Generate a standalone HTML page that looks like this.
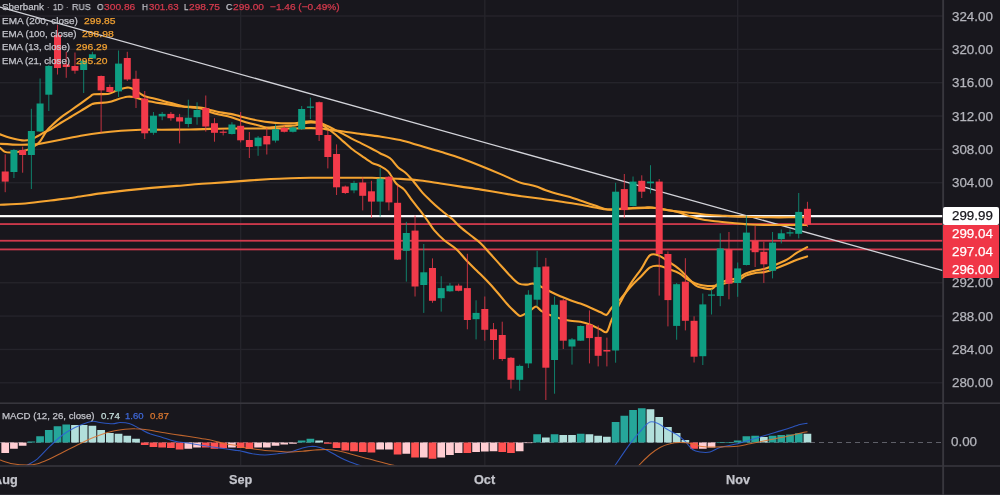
<!DOCTYPE html>
<html><head><meta charset="utf-8"><title>Sberbank 1D</title>
<style>
html,body{margin:0;padding:0;background:#18171d;}
body{width:1000px;height:495px;overflow:hidden;position:relative;font-family:"Liberation Sans",sans-serif;}
.t{position:absolute;white-space:nowrap;line-height:1;transform-origin:0 0;-webkit-text-stroke:0.25px currentColor;will-change:transform;}
.tag{position:absolute;left:942.9px;width:56.2px;height:17.8px;background:#f03647;}
</style></head><body>
<svg width="1000" height="495" viewBox="0 0 1000 495" style="position:absolute;left:0;top:0">
<rect width="1000" height="495" fill="#18171d"/>
<rect x="0" y="15.30" width="943" height="1.4" fill="#25242b"/>
<rect x="0" y="48.64" width="943" height="1.4" fill="#25242b"/>
<rect x="0" y="81.99" width="943" height="1.4" fill="#25242b"/>
<rect x="0" y="115.33" width="943" height="1.4" fill="#25242b"/>
<rect x="0" y="148.68" width="943" height="1.4" fill="#25242b"/>
<rect x="0" y="182.02" width="943" height="1.4" fill="#25242b"/>
<rect x="0" y="215.36" width="943" height="1.4" fill="#25242b"/>
<rect x="0" y="248.71" width="943" height="1.4" fill="#25242b"/>
<rect x="0" y="282.05" width="943" height="1.4" fill="#25242b"/>
<rect x="0" y="315.40" width="943" height="1.4" fill="#25242b"/>
<rect x="0" y="348.74" width="943" height="1.4" fill="#25242b"/>
<rect x="0" y="382.08" width="943" height="1.4" fill="#25242b"/>
<rect x="239.94" y="0" width="1.4" height="465.5" fill="#25242b"/>
<rect x="484.10" y="0" width="1.4" height="465.5" fill="#25242b"/>
<rect x="736.98" y="0" width="1.4" height="465.5" fill="#25242b"/>
<defs><clipPath id="mp"><rect x="0" y="0" width="943" height="403"/></clipPath><clipPath id="ip"><rect x="0" y="404" width="943" height="61.5"/></clipPath></defs>
<g clip-path="url(#mp)">
<rect x="0" y="215.05" width="943" height="2.2" fill="#ffffff"/>
<rect x="0" y="223.17" width="943" height="1.8" fill="#d13a4d"/>
<rect x="0" y="239.84" width="943" height="1.8" fill="#d13a4d"/>
<rect x="0" y="248.51" width="943" height="1.8" fill="#d13a4d"/>
<line x1="0" y1="7" x2="943" y2="270.6" stroke="#d3d4da" stroke-width="1.25"/>
<path d="M0.0,204.8 C4.2,204.6 16.9,204.2 25.3,203.5 C33.7,202.8 42.1,201.6 50.5,200.5 C58.9,199.4 67.4,198.4 75.8,197.2 C84.2,196.0 92.6,194.5 101.0,193.4 C109.4,192.3 117.9,191.3 126.3,190.4 C134.7,189.5 143.1,188.7 151.5,187.9 C159.9,187.2 168.4,186.6 176.8,185.9 C185.2,185.2 193.6,184.4 202.0,183.8 C210.4,183.2 219.3,182.7 227.3,182.1 C235.3,181.5 242.8,180.9 250.0,180.4 C257.2,179.9 264.0,179.4 270.8,179.0 C277.6,178.6 284.3,178.4 291.0,178.2 C297.7,178.0 304.3,177.9 311.0,177.8 C317.7,177.7 324.3,177.8 331.0,177.8 C337.7,177.8 344.2,177.8 351.0,177.8 C357.8,177.8 367.2,177.8 372.0,177.8 C376.8,177.9 375.3,177.9 380.0,178.1 C384.7,178.3 393.5,178.5 400.2,178.9 C406.9,179.3 413.7,179.7 420.4,180.5 C427.1,181.3 433.9,182.5 440.6,183.5 C447.3,184.5 454.1,185.6 460.8,186.6 C467.5,187.6 474.3,188.5 481.0,189.6 C487.7,190.7 494.5,191.9 501.2,193.0 C507.9,194.1 514.7,195.4 521.4,196.3 C528.1,197.2 534.9,197.8 541.6,198.7 C548.3,199.6 557.1,201.0 561.8,201.7 C566.5,202.4 566.5,202.4 570.0,203.0 C573.5,203.6 578.3,204.2 582.5,205.0 C586.7,205.8 590.8,206.8 595.0,207.5 C599.2,208.2 603.3,209.2 607.5,209.5 C611.7,209.8 613.8,209.2 620.0,209.0 C626.2,208.8 639.2,208.2 645.0,208.0 C650.8,207.8 650.8,207.6 655.0,208.0 C659.2,208.4 665.4,209.8 670.0,210.5 C674.6,211.2 678.3,211.5 682.5,212.0 C686.7,212.5 690.4,212.8 695.0,213.3 C699.6,213.8 705.0,214.6 710.0,215.0 C715.0,215.4 719.2,215.5 725.0,215.8 C730.8,216.1 737.5,216.6 745.0,216.8 C752.5,217.1 761.7,217.2 770.0,217.3 C778.3,217.4 788.9,217.3 795.0,217.3 C801.1,217.3 804.5,217.3 806.4,217.3" fill="none" stroke="#f5a431" stroke-width="2.1" stroke-linejoin="round" stroke-linecap="round"/>
<path d="M0.0,143.8 C3.3,144.0 14.3,144.7 20.0,144.8 C25.7,144.9 30.7,144.6 34.0,144.4 C37.3,144.2 35.6,144.6 40.0,143.8 C44.4,143.0 53.8,141.1 60.6,139.8 C67.4,138.5 74.1,137.0 80.8,135.8 C87.5,134.6 94.3,133.5 101.0,132.7 C107.7,131.8 114.3,131.2 121.0,130.7 C127.7,130.2 134.2,129.9 141.0,129.7 C147.8,129.5 153.4,129.7 161.6,129.7 C169.8,129.7 181.9,129.6 190.0,129.5 C198.1,129.4 203.3,129.1 210.0,128.9 C216.7,128.7 223.3,128.6 230.0,128.5 C236.7,128.4 243.3,128.5 250.0,128.5 C256.7,128.5 263.2,128.5 270.0,128.5 C276.8,128.5 284.2,128.6 291.0,128.5 C297.8,128.4 306.0,128.1 311.0,128.1 C316.0,128.1 317.6,128.2 321.0,128.5 C324.4,128.8 327.6,129.6 331.4,130.1 C335.1,130.6 338.4,130.8 343.5,131.5 C348.6,132.2 355.6,133.3 361.7,134.1 C367.8,134.9 373.6,135.5 380.0,136.5 C386.4,137.5 393.5,138.5 400.2,140.1 C406.9,141.7 413.7,143.9 420.4,145.8 C427.1,147.8 433.9,149.7 440.6,151.8 C447.3,153.9 454.1,155.9 460.8,158.3 C467.5,160.7 474.3,163.3 481.0,166.0 C487.7,168.7 496.1,172.2 501.2,174.4 C506.2,176.6 507.9,177.5 511.3,178.9 C514.7,180.3 517.4,181.7 521.4,182.9 C525.4,184.1 531.5,185.0 535.6,186.2 C539.7,187.4 541.3,188.7 545.7,190.2 C550.1,191.7 557.8,193.9 561.8,195.0 C565.8,196.1 566.5,195.9 570.0,197.0 C573.5,198.1 578.3,199.9 582.5,201.3 C586.7,202.7 590.8,204.1 595.0,205.5 C599.2,206.9 603.3,208.9 607.5,209.5 C611.7,210.1 615.8,209.1 620.0,208.8 C624.2,208.6 628.3,208.2 632.5,208.0 C636.7,207.8 641.7,207.6 645.0,207.5 C648.3,207.4 649.2,207.2 652.5,207.5 C655.8,207.8 660.8,208.8 665.0,209.5 C669.2,210.2 673.3,210.9 677.5,212.0 C681.7,213.1 685.8,215.1 690.0,216.3 C694.2,217.6 698.3,218.7 702.5,219.5 C706.7,220.3 710.0,220.7 715.0,221.3 C720.0,221.9 726.7,222.5 732.5,223.0 C738.3,223.5 743.8,224.2 750.0,224.5 C756.2,224.8 762.5,224.9 770.0,225.0 C777.5,225.1 788.9,225.0 795.0,225.0 C801.1,225.0 804.5,225.0 806.4,225.0" fill="none" stroke="#f5a431" stroke-width="2.1" stroke-linejoin="round" stroke-linecap="round"/>
<path d="M0.0,134.3 C1.7,134.9 6.3,136.8 10.0,137.8 C13.7,138.8 18.7,140.1 22.0,140.4 C25.3,140.7 27.6,140.4 30.0,139.8 C32.4,139.2 34.0,138.1 36.4,136.8 C38.8,135.6 42.0,133.5 44.4,132.3 C46.8,131.1 47.8,131.2 50.5,129.7 C53.2,128.1 57.2,125.1 60.6,123.0 C64.0,120.9 67.3,119.0 70.7,117.0 C74.1,115.0 77.4,112.9 80.8,110.9 C84.2,108.9 88.5,106.0 90.9,104.8 C93.3,103.5 92.0,103.9 95.0,103.4 C98.0,102.9 105.3,102.7 109.0,102.0 C112.7,101.3 114.2,100.3 117.2,99.4 C120.2,98.5 124.6,97.2 127.3,96.8 C130.0,96.4 130.3,96.4 133.3,97.0 C136.3,97.6 140.8,99.3 145.5,100.4 C150.2,101.5 155.5,102.4 161.6,103.4 C167.7,104.4 177.1,105.9 181.8,106.5 C186.5,107.1 186.6,106.7 190.0,106.9 C193.4,107.1 198.7,107.4 202.0,107.9 C205.3,108.4 207.0,109.2 210.0,109.9 C213.0,110.6 216.6,111.6 220.0,112.3 C223.4,113.0 227.0,113.2 230.4,113.9 C233.8,114.6 237.1,115.6 240.5,116.4 C243.9,117.2 247.2,118.2 250.6,119.0 C254.0,119.8 257.3,120.4 260.7,121.0 C264.1,121.6 267.4,122.0 270.8,122.4 C274.2,122.8 277.5,123.0 280.9,123.2 C284.3,123.4 288.3,123.4 291.0,123.4 C293.7,123.4 295.0,123.3 297.0,123.0 C299.0,122.7 300.7,122.1 303.0,121.8 C305.3,121.5 308.3,121.1 311.0,121.2 C313.7,121.3 316.6,121.6 319.3,122.4 C322.0,123.2 324.7,124.7 327.4,126.0 C330.1,127.3 332.8,128.8 335.5,130.1 C338.2,131.4 340.8,132.7 343.5,134.1 C346.2,135.5 348.6,137.0 351.6,138.6 C354.6,140.2 358.3,141.9 361.7,143.6 C365.1,145.3 368.8,147.1 371.8,148.7 C374.9,150.3 376.9,151.6 380.0,153.2 C383.1,154.8 387.1,155.9 390.1,158.3 C393.1,160.7 395.5,164.9 398.2,167.4 C400.9,169.9 403.6,170.9 406.3,173.4 C409.0,175.9 411.6,179.3 414.3,182.5 C417.0,185.7 419.7,189.6 422.4,192.6 C425.1,195.6 427.5,197.8 430.5,200.7 C433.5,203.6 437.2,206.9 440.6,209.8 C444.0,212.7 448.6,216.2 450.7,217.9 C452.8,219.6 451.7,218.5 453.3,220.0 C454.9,221.5 457.5,224.6 460.4,227.1 C463.3,229.6 467.1,232.5 470.5,235.2 C473.9,237.9 477.2,240.0 480.6,243.2 C484.0,246.4 487.3,250.6 490.7,254.3 C494.1,258.0 497.4,261.8 500.8,265.5 C504.2,269.2 507.9,273.6 510.9,276.6 C513.9,279.6 516.3,282.3 519.0,283.6 C521.7,284.9 524.8,284.6 527.1,284.6 C529.5,284.6 530.8,283.2 533.1,283.6 C535.5,284.0 538.4,285.4 541.2,286.7 C544.0,288.0 546.9,289.9 550.1,291.5 C553.3,293.1 556.8,294.8 560.2,296.2 C563.6,297.6 566.9,299.0 570.3,300.2 C573.7,301.4 577.0,302.4 580.4,303.6 C583.8,304.9 587.1,306.2 590.5,307.7 C593.9,309.1 597.9,311.1 600.6,312.3 C603.3,313.5 604.9,315.5 606.7,314.7 C608.6,313.9 609.4,310.4 611.7,307.7 C614.1,305.0 617.6,302.1 620.8,298.6 C624.0,295.1 627.5,290.2 630.9,286.5 C634.3,282.8 637.8,279.6 641.0,276.4 C644.2,273.2 647.1,269.1 650.1,267.3 C653.1,265.6 656.0,265.6 659.2,265.9 C662.4,266.2 665.9,268.1 669.3,269.3 C672.7,270.5 676.4,271.6 679.4,273.3 C682.4,275.0 684.8,277.7 687.5,279.4 C690.2,281.1 692.9,282.4 695.6,283.4 C698.3,284.4 700.9,285.1 703.6,285.5 C706.3,285.9 709.3,286.1 711.7,286.1 C714.1,286.1 715.4,285.9 717.8,285.4 C720.2,284.9 723.0,283.7 726.3,282.9 C729.6,282.1 734.2,281.6 737.6,280.4 C741.0,279.1 743.3,276.7 746.5,275.4 C749.7,274.1 753.7,273.4 756.6,272.8 C759.5,272.2 761.2,272.7 764.1,272.1 C767.0,271.5 770.4,270.4 774.2,269.0 C778.0,267.6 783.1,265.6 786.9,264.0 C790.7,262.4 793.6,261.0 797.0,259.7 C800.4,258.4 805.4,256.9 807.1,256.4" fill="none" stroke="#f5a431" stroke-width="2.1" stroke-linejoin="round" stroke-linecap="round"/>
<path d="M0.0,147.9 C0.8,148.6 3.0,151.1 5.0,151.9 C7.0,152.7 9.2,152.6 12.0,152.5 C14.8,152.4 19.0,151.9 22.0,151.3 C25.0,150.7 27.6,150.0 30.0,148.9 C32.4,147.8 34.7,146.2 36.4,144.8 C38.1,143.5 38.7,143.1 40.4,140.8 C42.1,138.5 44.8,133.4 46.5,131.1 C48.2,128.8 48.1,128.9 50.5,126.7 C52.9,124.5 57.2,120.3 60.6,117.6 C64.0,114.9 67.3,112.9 70.7,110.5 C74.1,108.1 77.4,105.8 80.8,103.4 C84.2,101.0 88.7,97.5 90.9,96.0 C93.1,94.5 91.0,94.7 94.0,94.3 C97.0,93.9 105.1,94.4 109.0,93.7 C112.9,93.0 114.3,91.3 117.2,90.3 C120.1,89.3 123.9,88.0 126.3,87.7 C128.7,87.4 128.8,87.2 131.3,88.3 C133.8,89.4 139.0,92.9 141.4,94.3 C143.8,95.7 142.1,95.4 145.5,96.4 C148.9,97.4 155.5,98.8 161.6,100.4 C167.7,102.0 177.1,104.8 181.8,106.0 C186.5,107.2 186.6,106.8 190.0,107.3 C193.4,107.8 198.7,107.9 202.0,108.7 C205.3,109.5 207.0,110.9 210.0,111.9 C213.0,112.9 216.6,113.9 220.0,114.7 C223.4,115.5 227.0,116.0 230.4,117.0 C233.8,118.0 237.1,119.3 240.5,120.4 C243.9,121.5 247.2,122.5 250.6,123.4 C254.0,124.3 258.0,125.3 260.7,126.0 C263.4,126.7 264.4,127.3 266.8,127.5 C269.2,127.7 271.8,127.2 274.8,127.0 C277.8,126.8 281.6,126.2 285.0,126.0 C288.4,125.8 292.0,125.9 295.0,125.5 C298.0,125.1 300.3,123.9 303.0,123.4 C305.7,122.9 308.3,122.4 311.0,122.4 C313.7,122.4 316.6,122.4 319.3,123.4 C322.0,124.4 324.7,126.7 327.4,128.5 C330.1,130.3 332.8,132.3 335.5,134.5 C338.2,136.7 340.8,139.2 343.5,141.6 C346.2,144.0 348.6,146.3 351.6,148.7 C354.6,151.1 358.3,153.5 361.7,155.8 C365.1,158.2 368.8,161.1 371.8,162.8 C374.9,164.5 377.3,164.6 380.0,166.0 C382.7,167.4 385.4,168.5 388.1,171.4 C390.8,174.3 393.5,180.5 396.2,183.5 C398.9,186.5 401.5,186.7 404.2,189.6 C406.9,192.5 409.6,197.2 412.3,200.7 C415.0,204.2 417.9,207.6 420.4,210.8 C422.9,214.0 424.8,216.8 427.1,220.0 C429.4,223.2 431.2,226.7 434.1,230.1 C437.0,233.5 440.5,237.0 444.2,240.2 C447.9,243.4 452.7,245.9 456.4,249.3 C460.1,252.7 463.1,256.9 466.5,260.4 C469.9,263.9 473.2,267.1 476.6,270.5 C480.0,273.9 483.3,277.1 486.7,280.6 C490.1,284.1 493.4,287.8 496.8,291.7 C500.2,295.6 503.9,300.4 506.9,303.8 C509.9,307.2 512.7,309.9 514.9,311.9 C517.1,313.9 518.3,315.7 520.0,316.0 C521.7,316.3 523.2,314.9 525.1,313.9 C527.0,312.9 529.2,311.1 531.1,309.9 C533.0,308.7 534.5,306.3 536.2,306.5 C537.9,306.7 539.0,309.5 541.2,310.9 C543.4,312.3 546.1,313.4 549.3,314.7 C552.5,315.9 556.7,317.4 560.2,318.4 C563.7,319.4 566.9,320.2 570.3,320.8 C573.7,321.4 577.0,321.1 580.4,321.8 C583.8,322.5 587.1,323.5 590.5,324.8 C593.9,326.1 597.9,328.3 600.6,329.5 C603.3,330.7 604.9,333.5 606.7,331.9 C608.6,330.3 609.4,324.9 611.7,319.8 C614.1,314.8 617.6,307.7 620.8,301.6 C624.0,295.5 627.5,288.8 630.9,283.4 C634.3,278.0 637.8,274.0 641.0,269.3 C644.2,264.6 647.1,257.4 650.1,255.2 C653.1,252.9 656.0,254.6 659.2,255.8 C662.4,257.0 665.9,259.9 669.3,262.2 C672.7,264.4 676.4,266.8 679.4,269.3 C682.4,271.8 684.8,274.7 687.5,277.4 C690.2,280.1 692.9,283.7 695.6,285.5 C698.3,287.3 700.9,287.5 703.6,288.1 C706.3,288.7 709.3,289.6 711.7,288.9 C714.1,288.2 715.4,285.4 717.8,284.0 C720.2,282.6 723.0,281.4 726.3,280.4 C729.6,279.4 734.2,279.1 737.6,277.9 C741.0,276.7 743.3,274.6 746.5,273.3 C749.7,272.0 753.7,271.0 756.6,270.3 C759.5,269.6 761.2,269.8 764.1,269.0 C767.0,268.2 770.4,266.9 774.2,265.3 C778.0,263.8 783.1,261.8 786.9,259.7 C790.7,257.6 793.6,254.7 797.0,252.6 C800.4,250.5 805.4,248.0 807.1,247.1" fill="none" stroke="#f5a431" stroke-width="2.1" stroke-linejoin="round" stroke-linecap="round"/>
<rect x="4.70" y="154.3" width="1" height="37.9" fill="#f23a4a" opacity="0.78"/>
<rect x="1.70" y="171.5" width="7" height="10.1" fill="#f23a4a"/>
<rect x="13.42" y="149.0" width="1" height="29.0" fill="#0e9e82" opacity="0.78"/>
<rect x="10.42" y="150.0" width="7" height="22.0" fill="#0e9e82"/>
<rect x="22.14" y="146.7" width="1" height="26.0" fill="#f23a4a" opacity="0.78"/>
<rect x="19.14" y="150.0" width="7" height="5.0" fill="#f23a4a"/>
<rect x="30.86" y="108.8" width="1" height="80.2" fill="#0e9e82" opacity="0.78"/>
<rect x="27.86" y="131.0" width="7" height="24.0" fill="#0e9e82"/>
<rect x="39.58" y="78.5" width="1" height="53.5" fill="#0e9e82" opacity="0.78"/>
<rect x="36.58" y="103.5" width="7" height="28.0" fill="#0e9e82"/>
<rect x="48.30" y="65.0" width="1" height="46.0" fill="#0e9e82" opacity="0.78"/>
<rect x="45.30" y="66.0" width="7" height="28.7" fill="#0e9e82"/>
<rect x="57.02" y="25.0" width="1" height="49.5" fill="#f23a4a" opacity="0.78"/>
<rect x="54.02" y="35.0" width="7" height="33.0" fill="#f23a4a"/>
<rect x="65.74" y="51.8" width="1" height="26.0" fill="#f23a4a" opacity="0.78"/>
<rect x="62.74" y="64.4" width="7" height="2.6" fill="#f23a4a"/>
<rect x="74.46" y="52.5" width="1" height="21.2" fill="#f23a4a" opacity="0.78"/>
<rect x="71.46" y="66.0" width="7" height="4.7" fill="#f23a4a"/>
<rect x="83.18" y="60.0" width="1" height="33.0" fill="#0e9e82" opacity="0.78"/>
<rect x="80.18" y="60.6" width="7" height="9.4" fill="#0e9e82"/>
<rect x="91.90" y="51.8" width="1" height="7.2" fill="#0e9e82" opacity="0.78"/>
<rect x="88.90" y="54.3" width="7" height="4.3" fill="#0e9e82"/>
<rect x="100.62" y="75.5" width="1" height="57.3" fill="#f23a4a" opacity="0.78"/>
<rect x="97.62" y="76.0" width="7" height="14.4" fill="#f23a4a"/>
<rect x="109.34" y="84.6" width="1" height="7.9" fill="#f23a4a" opacity="0.78"/>
<rect x="106.34" y="87.0" width="7" height="5.0" fill="#f23a4a"/>
<rect x="118.06" y="50.5" width="1" height="46.5" fill="#0e9e82" opacity="0.78"/>
<rect x="115.06" y="63.6" width="7" height="27.8" fill="#0e9e82"/>
<rect x="126.78" y="51.8" width="1" height="29.2" fill="#f23a4a" opacity="0.78"/>
<rect x="123.78" y="58.0" width="7" height="21.5" fill="#f23a4a"/>
<rect x="135.50" y="70.7" width="1" height="37.3" fill="#f23a4a" opacity="0.78"/>
<rect x="132.50" y="78.8" width="7" height="19.2" fill="#f23a4a"/>
<rect x="144.22" y="91.0" width="1" height="48.0" fill="#f23a4a" opacity="0.78"/>
<rect x="141.22" y="98.5" width="7" height="34.8" fill="#f23a4a"/>
<rect x="152.94" y="112.0" width="1" height="22.8" fill="#0e9e82" opacity="0.78"/>
<rect x="149.94" y="115.7" width="7" height="17.1" fill="#0e9e82"/>
<rect x="161.66" y="112.0" width="1" height="8.2" fill="#0e9e82" opacity="0.78"/>
<rect x="158.66" y="113.9" width="7" height="2.5" fill="#0e9e82"/>
<rect x="170.38" y="112.0" width="1" height="8.7" fill="#f23a4a" opacity="0.78"/>
<rect x="167.38" y="113.9" width="7" height="4.3" fill="#f23a4a"/>
<rect x="179.10" y="113.9" width="1" height="29.5" fill="#f23a4a" opacity="0.78"/>
<rect x="176.10" y="117.2" width="7" height="4.3" fill="#f23a4a"/>
<rect x="187.82" y="99.7" width="1" height="27.6" fill="#0e9e82" opacity="0.78"/>
<rect x="184.82" y="117.7" width="7" height="6.3" fill="#0e9e82"/>
<rect x="196.54" y="102.3" width="1" height="22.4" fill="#0e9e82" opacity="0.78"/>
<rect x="193.54" y="110.0" width="7" height="7.2" fill="#0e9e82"/>
<rect x="205.26" y="95.5" width="1" height="36.1" fill="#f23a4a" opacity="0.78"/>
<rect x="202.26" y="108.0" width="7" height="18.5" fill="#f23a4a"/>
<rect x="213.98" y="118.2" width="1" height="23.5" fill="#f23a4a" opacity="0.78"/>
<rect x="210.98" y="123.2" width="7" height="9.6" fill="#f23a4a"/>
<rect x="222.70" y="129.0" width="1" height="6.4" fill="#f23a4a" opacity="0.78"/>
<rect x="219.70" y="131.6" width="7" height="1.2" fill="#f23a4a"/>
<rect x="231.42" y="122.2" width="1" height="12.3" fill="#0e9e82" opacity="0.78"/>
<rect x="228.42" y="124.5" width="7" height="9.5" fill="#0e9e82"/>
<rect x="240.14" y="112.0" width="1" height="30.4" fill="#f23a4a" opacity="0.78"/>
<rect x="237.14" y="125.8" width="7" height="14.5" fill="#f23a4a"/>
<rect x="248.86" y="132.0" width="1" height="26.0" fill="#f23a4a" opacity="0.78"/>
<rect x="245.86" y="140.0" width="7" height="7.0" fill="#f23a4a"/>
<rect x="257.58" y="136.0" width="1" height="19.8" fill="#0e9e82" opacity="0.78"/>
<rect x="254.58" y="137.6" width="7" height="8.6" fill="#0e9e82"/>
<rect x="266.30" y="128.0" width="1" height="26.5" fill="#f23a4a" opacity="0.78"/>
<rect x="263.30" y="136.0" width="7" height="8.4" fill="#f23a4a"/>
<rect x="275.02" y="124.2" width="1" height="18.4" fill="#0e9e82" opacity="0.78"/>
<rect x="272.02" y="129.2" width="7" height="11.4" fill="#0e9e82"/>
<rect x="283.74" y="125.5" width="1" height="7.0" fill="#f23a4a" opacity="0.78"/>
<rect x="280.74" y="128.0" width="7" height="3.8" fill="#f23a4a"/>
<rect x="292.46" y="126.2" width="1" height="6.3" fill="#0e9e82" opacity="0.78"/>
<rect x="289.46" y="127.5" width="7" height="4.3" fill="#0e9e82"/>
<rect x="301.18" y="106.0" width="1" height="24.0" fill="#0e9e82" opacity="0.78"/>
<rect x="298.18" y="109.0" width="7" height="20.2" fill="#0e9e82"/>
<rect x="309.90" y="97.7" width="1" height="21.3" fill="#0e9e82" opacity="0.78"/>
<rect x="306.90" y="106.5" width="7" height="1.3" fill="#0e9e82"/>
<rect x="318.62" y="101.5" width="1" height="39.5" fill="#f23a4a" opacity="0.78"/>
<rect x="315.62" y="102.2" width="7" height="32.8" fill="#f23a4a"/>
<rect x="327.34" y="130.5" width="1" height="37.9" fill="#f23a4a" opacity="0.78"/>
<rect x="324.34" y="135.0" width="7" height="22.0" fill="#f23a4a"/>
<rect x="336.06" y="144.4" width="1" height="50.6" fill="#f23a4a" opacity="0.78"/>
<rect x="333.06" y="154.0" width="7" height="33.3" fill="#f23a4a"/>
<rect x="344.78" y="185.5" width="1" height="8.5" fill="#f23a4a" opacity="0.78"/>
<rect x="341.78" y="186.5" width="7" height="6.5" fill="#f23a4a"/>
<rect x="353.50" y="180.8" width="1" height="12.4" fill="#0e9e82" opacity="0.78"/>
<rect x="350.50" y="183.0" width="7" height="7.4" fill="#0e9e82"/>
<rect x="362.22" y="177.4" width="1" height="33.0" fill="#f23a4a" opacity="0.78"/>
<rect x="359.22" y="182.5" width="7" height="13.3" fill="#f23a4a"/>
<rect x="370.94" y="180.8" width="1" height="37.2" fill="#f23a4a" opacity="0.78"/>
<rect x="367.94" y="191.3" width="7" height="10.3" fill="#f23a4a"/>
<rect x="379.66" y="168.0" width="1" height="48.7" fill="#0e9e82" opacity="0.78"/>
<rect x="376.66" y="178.7" width="7" height="22.9" fill="#0e9e82"/>
<rect x="388.38" y="176.0" width="1" height="34.4" fill="#f23a4a" opacity="0.78"/>
<rect x="385.38" y="176.8" width="7" height="25.6" fill="#f23a4a"/>
<rect x="397.10" y="185.2" width="1" height="74.8" fill="#f23a4a" opacity="0.78"/>
<rect x="394.10" y="202.8" width="7" height="56.8" fill="#f23a4a"/>
<rect x="405.82" y="221.8" width="1" height="59.8" fill="#0e9e82" opacity="0.78"/>
<rect x="402.82" y="233.0" width="7" height="17.8" fill="#0e9e82"/>
<rect x="414.54" y="215.5" width="1" height="81.0" fill="#f23a4a" opacity="0.78"/>
<rect x="411.54" y="230.6" width="7" height="55.9" fill="#f23a4a"/>
<rect x="423.26" y="244.0" width="1" height="68.9" fill="#0e9e82" opacity="0.78"/>
<rect x="420.26" y="272.3" width="7" height="12.7" fill="#0e9e82"/>
<rect x="431.98" y="258.4" width="1" height="44.4" fill="#f23a4a" opacity="0.78"/>
<rect x="428.98" y="268.0" width="7" height="32.8" fill="#f23a4a"/>
<rect x="440.70" y="276.2" width="1" height="35.4" fill="#0e9e82" opacity="0.78"/>
<rect x="437.70" y="288.1" width="7" height="10.1" fill="#0e9e82"/>
<rect x="449.42" y="283.0" width="1" height="8.8" fill="#0e9e82" opacity="0.78"/>
<rect x="446.42" y="285.6" width="7" height="5.7" fill="#0e9e82"/>
<rect x="458.14" y="283.7" width="1" height="7.7" fill="#f23a4a" opacity="0.78"/>
<rect x="455.14" y="285.6" width="7" height="5.2" fill="#f23a4a"/>
<rect x="466.86" y="253.8" width="1" height="75.5" fill="#f23a4a" opacity="0.78"/>
<rect x="463.86" y="288.1" width="7" height="31.9" fill="#f23a4a"/>
<rect x="475.58" y="300.3" width="1" height="39.1" fill="#0e9e82" opacity="0.78"/>
<rect x="472.58" y="312.9" width="7" height="6.3" fill="#0e9e82"/>
<rect x="484.30" y="296.5" width="1" height="44.2" fill="#f23a4a" opacity="0.78"/>
<rect x="481.30" y="309.0" width="7" height="20.8" fill="#f23a4a"/>
<rect x="493.02" y="323.0" width="1" height="36.6" fill="#f23a4a" opacity="0.78"/>
<rect x="490.02" y="329.3" width="7" height="10.7" fill="#f23a4a"/>
<rect x="501.74" y="321.7" width="1" height="39.2" fill="#f23a4a" opacity="0.78"/>
<rect x="498.74" y="335.0" width="7" height="24.0" fill="#f23a4a"/>
<rect x="510.46" y="357.0" width="1" height="31.6" fill="#f23a4a" opacity="0.78"/>
<rect x="507.46" y="357.8" width="7" height="22.0" fill="#f23a4a"/>
<rect x="519.18" y="364.6" width="1" height="26.1" fill="#0e9e82" opacity="0.78"/>
<rect x="516.18" y="365.9" width="7" height="13.9" fill="#0e9e82"/>
<rect x="527.90" y="290.2" width="1" height="77.8" fill="#0e9e82" opacity="0.78"/>
<rect x="524.90" y="294.7" width="7" height="68.7" fill="#0e9e82"/>
<rect x="536.62" y="250.8" width="1" height="55.8" fill="#0e9e82" opacity="0.78"/>
<rect x="533.62" y="267.2" width="7" height="32.5" fill="#0e9e82"/>
<rect x="545.34" y="257.9" width="1" height="142.1" fill="#f23a4a" opacity="0.78"/>
<rect x="542.34" y="266.5" width="7" height="101.2" fill="#f23a4a"/>
<rect x="554.06" y="296.5" width="1" height="97.2" fill="#0e9e82" opacity="0.78"/>
<rect x="551.06" y="304.8" width="7" height="55.2" fill="#0e9e82"/>
<rect x="562.78" y="299.0" width="1" height="50.0" fill="#f23a4a" opacity="0.78"/>
<rect x="559.78" y="300.3" width="7" height="40.4" fill="#f23a4a"/>
<rect x="571.50" y="338.0" width="1" height="26.6" fill="#0e9e82" opacity="0.78"/>
<rect x="568.50" y="339.4" width="7" height="7.1" fill="#0e9e82"/>
<rect x="580.22" y="325.5" width="1" height="15.5" fill="#0e9e82" opacity="0.78"/>
<rect x="577.22" y="326.0" width="7" height="14.7" fill="#0e9e82"/>
<rect x="588.94" y="310.4" width="1" height="53.0" fill="#f23a4a" opacity="0.78"/>
<rect x="585.94" y="324.7" width="7" height="13.4" fill="#f23a4a"/>
<rect x="597.66" y="325.5" width="1" height="40.9" fill="#f23a4a" opacity="0.78"/>
<rect x="594.66" y="336.9" width="7" height="18.9" fill="#f23a4a"/>
<rect x="606.38" y="337.6" width="1" height="28.8" fill="#f23a4a" opacity="0.78"/>
<rect x="603.38" y="350.0" width="7" height="1.5" fill="#f23a4a"/>
<rect x="615.10" y="182.8" width="1" height="179.9" fill="#0e9e82" opacity="0.78"/>
<rect x="612.10" y="191.7" width="7" height="158.8" fill="#0e9e82"/>
<rect x="623.82" y="174.0" width="1" height="44.2" fill="#f23a4a" opacity="0.78"/>
<rect x="620.82" y="189.1" width="7" height="21.0" fill="#f23a4a"/>
<rect x="632.54" y="176.5" width="1" height="30.0" fill="#0e9e82" opacity="0.78"/>
<rect x="629.54" y="181.6" width="7" height="24.4" fill="#0e9e82"/>
<rect x="641.26" y="175.3" width="1" height="22.7" fill="#f23a4a" opacity="0.78"/>
<rect x="638.26" y="180.8" width="7" height="10.9" fill="#f23a4a"/>
<rect x="649.98" y="165.2" width="1" height="28.2" fill="#0e9e82" opacity="0.78"/>
<rect x="646.98" y="181.6" width="7" height="1.7" fill="#0e9e82"/>
<rect x="658.70" y="179.0" width="1" height="116.6" fill="#f23a4a" opacity="0.78"/>
<rect x="655.70" y="181.6" width="7" height="72.4" fill="#f23a4a"/>
<rect x="667.42" y="251.4" width="1" height="75.0" fill="#f23a4a" opacity="0.78"/>
<rect x="664.42" y="254.0" width="7" height="46.1" fill="#f23a4a"/>
<rect x="676.14" y="283.0" width="1" height="56.7" fill="#0e9e82" opacity="0.78"/>
<rect x="673.14" y="284.2" width="7" height="41.7" fill="#0e9e82"/>
<rect x="684.86" y="258.2" width="1" height="72.2" fill="#f23a4a" opacity="0.78"/>
<rect x="681.86" y="281.7" width="7" height="39.1" fill="#f23a4a"/>
<rect x="693.58" y="316.3" width="1" height="46.2" fill="#f23a4a" opacity="0.78"/>
<rect x="690.58" y="320.8" width="7" height="35.9" fill="#f23a4a"/>
<rect x="702.30" y="293.5" width="1" height="71.5" fill="#0e9e82" opacity="0.78"/>
<rect x="699.30" y="304.4" width="7" height="51.8" fill="#0e9e82"/>
<rect x="711.02" y="289.2" width="1" height="25.3" fill="#0e9e82" opacity="0.78"/>
<rect x="708.02" y="294.5" width="7" height="1.2" fill="#0e9e82"/>
<rect x="719.74" y="233.3" width="1" height="72.9" fill="#0e9e82" opacity="0.78"/>
<rect x="716.74" y="248.4" width="7" height="47.6" fill="#0e9e82"/>
<rect x="728.46" y="232.0" width="1" height="67.3" fill="#f23a4a" opacity="0.78"/>
<rect x="725.46" y="249.3" width="7" height="34.4" fill="#f23a4a"/>
<rect x="737.18" y="262.5" width="1" height="34.3" fill="#0e9e82" opacity="0.78"/>
<rect x="734.18" y="268.4" width="7" height="14.6" fill="#0e9e82"/>
<rect x="745.90" y="215.7" width="1" height="49.8" fill="#0e9e82" opacity="0.78"/>
<rect x="742.90" y="232.6" width="7" height="32.4" fill="#0e9e82"/>
<rect x="754.62" y="225.8" width="1" height="41.2" fill="#f23a4a" opacity="0.78"/>
<rect x="751.62" y="240.9" width="7" height="11.3" fill="#f23a4a"/>
<rect x="763.34" y="241.7" width="1" height="41.2" fill="#f23a4a" opacity="0.78"/>
<rect x="760.34" y="251.8" width="7" height="12.5" fill="#f23a4a"/>
<rect x="772.06" y="232.0" width="1" height="46.4" fill="#0e9e82" opacity="0.78"/>
<rect x="769.06" y="242.6" width="7" height="28.2" fill="#0e9e82"/>
<rect x="780.78" y="229.5" width="1" height="13.9" fill="#0e9e82" opacity="0.78"/>
<rect x="777.78" y="233.3" width="7" height="5.8" fill="#0e9e82"/>
<rect x="789.50" y="229.5" width="1" height="6.9" fill="#0e9e82" opacity="0.78"/>
<rect x="786.50" y="232.3" width="7" height="1.2" fill="#0e9e82"/>
<rect x="798.22" y="193.0" width="1" height="45.4" fill="#0e9e82" opacity="0.78"/>
<rect x="795.22" y="211.9" width="7" height="21.9" fill="#0e9e82"/>
<rect x="806.94" y="201.8" width="1" height="25.2" fill="#f23a4a" opacity="0.78"/>
<rect x="803.94" y="208.8" width="7" height="15.7" fill="#f23a4a"/>
</g>
<g clip-path="url(#ip)">
<line x1="0" y1="442.5" x2="943" y2="442.5" stroke="#5e5f68" stroke-width="1" stroke-dasharray="5,4"/>
<rect x="1.35" y="442.50" width="7.7" height="10.50" fill="#ffcdd2"/>
<rect x="10.07" y="442.50" width="7.7" height="6.25" fill="#ffcdd2"/>
<rect x="18.79" y="442.50" width="7.7" height="3.25" fill="#ffcdd2"/>
<rect x="27.51" y="441.50" width="7.7" height="1.00" fill="#26a69a"/>
<rect x="36.23" y="436.25" width="7.7" height="6.25" fill="#26a69a"/>
<rect x="44.95" y="430.00" width="7.7" height="12.50" fill="#26a69a"/>
<rect x="53.67" y="426.25" width="7.7" height="16.25" fill="#26a69a"/>
<rect x="62.39" y="424.50" width="7.7" height="18.00" fill="#26a69a"/>
<rect x="71.11" y="425.00" width="7.7" height="17.50" fill="#b2dfdb"/>
<rect x="79.83" y="425.00" width="7.7" height="17.50" fill="#b2dfdb"/>
<rect x="88.55" y="425.75" width="7.7" height="16.75" fill="#b2dfdb"/>
<rect x="97.27" y="430.00" width="7.7" height="12.50" fill="#b2dfdb"/>
<rect x="105.99" y="433.00" width="7.7" height="9.50" fill="#b2dfdb"/>
<rect x="114.71" y="433.75" width="7.7" height="8.75" fill="#b2dfdb"/>
<rect x="123.43" y="435.75" width="7.7" height="6.75" fill="#b2dfdb"/>
<rect x="132.15" y="438.75" width="7.7" height="3.75" fill="#b2dfdb"/>
<rect x="140.87" y="442.50" width="7.7" height="2.50" fill="#ff5252"/>
<rect x="149.59" y="442.50" width="7.7" height="4.50" fill="#ff5252"/>
<rect x="158.31" y="442.50" width="7.7" height="5.00" fill="#ff5252"/>
<rect x="167.03" y="442.50" width="7.7" height="5.50" fill="#ff5252"/>
<rect x="175.75" y="442.50" width="7.7" height="7.00" fill="#ff5252"/>
<rect x="184.47" y="442.50" width="7.7" height="6.25" fill="#ffcdd2"/>
<rect x="193.19" y="442.50" width="7.7" height="5.00" fill="#ffcdd2"/>
<rect x="201.91" y="442.50" width="7.7" height="5.00" fill="#ff5252"/>
<rect x="210.63" y="442.50" width="7.7" height="6.25" fill="#ff5252"/>
<rect x="219.35" y="442.50" width="7.7" height="5.75" fill="#ff5252"/>
<rect x="228.07" y="442.50" width="7.7" height="5.00" fill="#ffcdd2"/>
<rect x="236.79" y="442.50" width="7.7" height="5.50" fill="#ff5252"/>
<rect x="245.51" y="442.50" width="7.7" height="6.50" fill="#ff5252"/>
<rect x="254.23" y="442.50" width="7.7" height="5.00" fill="#ffcdd2"/>
<rect x="262.95" y="442.50" width="7.7" height="5.00" fill="#ffcdd2"/>
<rect x="271.67" y="442.50" width="7.7" height="3.25" fill="#ffcdd2"/>
<rect x="280.39" y="442.50" width="7.7" height="2.00" fill="#ffcdd2"/>
<rect x="289.11" y="442.50" width="7.7" height="1.25" fill="#ffcdd2"/>
<rect x="297.83" y="440.50" width="7.7" height="2.00" fill="#26a69a"/>
<rect x="306.55" y="438.75" width="7.7" height="3.75" fill="#26a69a"/>
<rect x="315.27" y="440.50" width="7.7" height="2.00" fill="#b2dfdb"/>
<rect x="323.99" y="442.50" width="7.7" height="1.25" fill="#ff5252"/>
<rect x="332.71" y="442.50" width="7.7" height="5.50" fill="#ff5252"/>
<rect x="341.43" y="442.50" width="7.7" height="8.00" fill="#ff5252"/>
<rect x="350.15" y="442.50" width="7.7" height="8.75" fill="#ff5252"/>
<rect x="358.87" y="442.50" width="7.7" height="9.50" fill="#ff5252"/>
<rect x="367.59" y="442.50" width="7.7" height="10.00" fill="#ff5252"/>
<rect x="376.31" y="442.50" width="7.7" height="7.00" fill="#ffcdd2"/>
<rect x="385.03" y="442.50" width="7.7" height="7.00" fill="#ffcdd2"/>
<rect x="393.75" y="442.50" width="7.7" height="12.00" fill="#ff5252"/>
<rect x="402.47" y="442.50" width="7.7" height="11.25" fill="#ffcdd2"/>
<rect x="411.19" y="442.50" width="7.7" height="15.00" fill="#ff5252"/>
<rect x="419.91" y="442.50" width="7.7" height="15.00" fill="#ffcdd2"/>
<rect x="428.63" y="442.50" width="7.7" height="16.25" fill="#ff5252"/>
<rect x="437.35" y="442.50" width="7.7" height="15.00" fill="#ffcdd2"/>
<rect x="446.07" y="442.50" width="7.7" height="12.50" fill="#ffcdd2"/>
<rect x="454.79" y="442.50" width="7.7" height="10.50" fill="#ffcdd2"/>
<rect x="463.51" y="442.50" width="7.7" height="10.50" fill="#ff5252"/>
<rect x="472.23" y="442.50" width="7.7" height="9.50" fill="#ffcdd2"/>
<rect x="480.95" y="442.50" width="7.7" height="9.00" fill="#ffcdd2"/>
<rect x="489.67" y="442.50" width="7.7" height="8.75" fill="#ffcdd2"/>
<rect x="498.39" y="442.50" width="7.7" height="9.50" fill="#ff5252"/>
<rect x="507.11" y="442.50" width="7.7" height="10.50" fill="#ff5252"/>
<rect x="515.83" y="442.50" width="7.7" height="8.75" fill="#ffcdd2"/>
<rect x="524.55" y="442.50" width="7.7" height="0.60" fill="#ffcdd2"/>
<rect x="533.27" y="434.25" width="7.7" height="8.25" fill="#26a69a"/>
<rect x="541.99" y="437.50" width="7.7" height="5.00" fill="#b2dfdb"/>
<rect x="550.71" y="434.25" width="7.7" height="8.25" fill="#26a69a"/>
<rect x="559.43" y="435.00" width="7.7" height="7.50" fill="#b2dfdb"/>
<rect x="568.15" y="435.00" width="7.7" height="7.50" fill="#b2dfdb"/>
<rect x="576.87" y="433.75" width="7.7" height="8.75" fill="#26a69a"/>
<rect x="585.59" y="434.25" width="7.7" height="8.25" fill="#b2dfdb"/>
<rect x="594.31" y="435.75" width="7.7" height="6.75" fill="#b2dfdb"/>
<rect x="603.03" y="436.75" width="7.7" height="5.75" fill="#b2dfdb"/>
<rect x="611.75" y="422.00" width="7.7" height="20.50" fill="#26a69a"/>
<rect x="620.47" y="415.75" width="7.7" height="26.75" fill="#26a69a"/>
<rect x="629.19" y="410.00" width="7.7" height="32.50" fill="#26a69a"/>
<rect x="637.91" y="408.25" width="7.7" height="34.25" fill="#26a69a"/>
<rect x="646.63" y="409.25" width="7.7" height="33.25" fill="#b2dfdb"/>
<rect x="655.35" y="417.00" width="7.7" height="25.50" fill="#b2dfdb"/>
<rect x="664.07" y="427.00" width="7.7" height="15.50" fill="#b2dfdb"/>
<rect x="672.79" y="433.00" width="7.7" height="9.50" fill="#b2dfdb"/>
<rect x="681.51" y="440.00" width="7.7" height="2.50" fill="#b2dfdb"/>
<rect x="690.23" y="442.50" width="7.7" height="6.25" fill="#ff5252"/>
<rect x="698.95" y="442.50" width="7.7" height="6.25" fill="#ffcdd2"/>
<rect x="707.67" y="442.50" width="7.7" height="5.00" fill="#ffcdd2"/>
<rect x="716.39" y="442.25" width="7.7" height="0.60" fill="#26a69a"/>
<rect x="725.11" y="442.00" width="7.7" height="0.60" fill="#26a69a"/>
<rect x="733.83" y="440.50" width="7.7" height="2.00" fill="#26a69a"/>
<rect x="742.55" y="436.25" width="7.7" height="6.25" fill="#26a69a"/>
<rect x="751.27" y="435.75" width="7.7" height="6.75" fill="#26a69a"/>
<rect x="759.99" y="437.00" width="7.7" height="5.50" fill="#b2dfdb"/>
<rect x="768.71" y="435.75" width="7.7" height="6.75" fill="#26a69a"/>
<rect x="777.43" y="435.00" width="7.7" height="7.50" fill="#26a69a"/>
<rect x="786.15" y="434.50" width="7.7" height="8.00" fill="#26a69a"/>
<rect x="794.87" y="433.25" width="7.7" height="9.25" fill="#26a69a"/>
<rect x="803.59" y="433.75" width="7.7" height="8.75" fill="#b2dfdb"/>
<path d="M23.8,467.5 C24.4,467.1 25.2,466.5 27.5,465.0 C29.8,463.5 33.8,461.9 37.5,458.8 C41.2,455.6 45.8,450.2 50.0,446.2 C54.2,442.3 58.3,438.1 62.5,435.0 C66.7,431.9 70.8,429.6 75.0,427.5 C79.2,425.4 84.4,423.5 87.5,422.5 C90.6,421.5 91.7,421.2 93.8,421.2 C95.8,421.2 96.9,422.1 100.0,422.5 C103.1,422.9 109.2,423.8 112.5,423.8 C115.8,423.8 117.1,422.5 120.0,422.5 C122.9,422.5 126.7,422.7 130.0,423.8 C133.3,424.8 136.7,427.1 140.0,428.8 C143.3,430.4 146.2,432.3 150.0,433.8 C153.8,435.2 158.3,436.2 162.5,437.5 C166.7,438.8 170.8,440.3 175.0,441.2 C179.2,442.2 183.3,442.4 187.5,443.0 C191.7,443.6 195.8,444.3 200.0,445.0 C204.2,445.7 208.3,446.4 212.5,447.0 C216.7,447.6 220.8,448.2 225.0,448.8 C229.2,449.3 235.0,450.2 237.5,450.5 C240.0,450.8 237.5,450.2 240.0,450.8 C242.5,451.3 248.3,453.0 252.5,453.8 C256.7,454.5 260.8,455.0 265.0,455.0 C269.2,455.0 273.3,454.2 277.5,453.8 C281.7,453.2 285.8,453.0 290.0,452.0 C294.2,451.0 298.8,449.0 302.5,448.0 C306.2,447.0 309.6,446.3 312.5,446.2 C315.4,446.2 317.5,446.8 320.0,447.5 C322.5,448.2 324.2,448.8 327.5,450.5 C330.8,452.2 336.2,455.6 340.0,457.5 C343.8,459.4 346.7,460.7 350.0,462.0 C353.3,463.3 357.5,464.5 360.0,465.5 C362.5,466.5 364.2,467.6 365.0,468.0" fill="none" stroke="#2f5fd8" stroke-width="1.1" stroke-linejoin="round" opacity="0.85"/>
<path d="M612.5,468.8 C612.9,468.2 612.1,469.7 615.0,465.5 C617.9,461.3 625.4,449.9 630.0,443.8 C634.6,437.6 639.2,432.4 642.5,428.8 C645.8,425.1 647.5,422.9 650.0,422.0 C652.5,421.1 654.6,422.0 657.5,423.2 C660.4,424.5 664.2,427.5 667.5,429.5 C670.8,431.5 674.6,433.0 677.5,435.0 C680.4,437.0 682.5,438.8 685.0,441.2 C687.5,443.7 690.0,447.7 692.5,449.5 C695.0,451.3 697.1,451.6 700.0,452.0 C702.9,452.4 706.7,452.8 710.0,452.0 C713.3,451.2 715.4,448.9 720.0,447.5 C724.6,446.1 732.5,445.0 737.5,443.8 C742.5,442.5 745.8,441.2 750.0,440.0 C754.2,438.8 758.3,437.5 762.5,436.2 C766.7,435.0 770.8,433.8 775.0,432.5 C779.2,431.2 783.3,430.1 787.5,428.8 C791.7,427.4 796.7,425.4 800.0,424.5 C803.3,423.6 806.2,423.5 807.5,423.2" fill="none" stroke="#2f5fd8" stroke-width="1.1" stroke-linejoin="round" opacity="0.85"/>
<path d="M0.0,460.0 C2.1,460.6 7.9,462.9 12.5,463.8 C17.1,464.6 23.3,465.0 27.5,465.0 C31.7,465.0 33.8,464.8 37.5,463.8 C41.2,462.7 45.8,460.6 50.0,458.8 C54.2,456.9 58.3,454.6 62.5,452.5 C66.7,450.4 70.8,448.3 75.0,446.2 C79.2,444.2 83.3,441.9 87.5,440.0 C91.7,438.1 95.8,436.5 100.0,435.0 C104.2,433.5 108.3,432.2 112.5,431.2 C116.7,430.3 121.2,429.7 125.0,429.2 C128.8,428.8 131.7,428.7 135.0,428.8 C138.3,428.8 140.4,428.9 145.0,429.5 C149.6,430.1 157.5,431.7 162.5,432.5 C167.5,433.3 170.8,433.9 175.0,434.5 C179.2,435.1 183.3,435.6 187.5,436.2 C191.7,436.9 195.8,437.5 200.0,438.2 C204.2,439.0 208.3,439.6 212.5,440.5 C216.7,441.4 220.8,442.9 225.0,443.8 C229.2,444.6 235.0,445.2 237.5,445.8 C240.0,446.3 237.5,446.5 240.0,447.0 C242.5,447.5 248.3,448.2 252.5,448.8 C256.7,449.3 260.8,450.1 265.0,450.5 C269.2,450.9 273.3,451.0 277.5,451.2 C281.7,451.5 285.8,452.0 290.0,452.0 C294.2,452.0 298.3,451.6 302.5,451.2 C306.7,450.9 310.8,450.3 315.0,450.0 C319.2,449.7 323.3,449.3 327.5,449.5 C331.7,449.7 335.8,450.4 340.0,451.2 C344.2,452.1 348.3,453.4 352.5,454.5 C356.7,455.6 360.8,456.9 365.0,458.0 C369.2,459.1 373.3,460.2 377.5,461.2 C381.7,462.3 387.1,463.8 390.0,464.5 C392.9,465.2 392.9,465.0 395.0,465.8 C397.1,466.5 401.2,468.2 402.5,468.8" fill="none" stroke="#dd7330" stroke-width="1.1" stroke-linejoin="round" opacity="0.85"/>
<path d="M636.2,468.8 C636.7,468.2 636.5,467.9 638.8,465.5 C641.0,463.1 646.5,457.5 650.0,454.5 C653.5,451.5 656.7,449.3 660.0,447.5 C663.3,445.7 666.7,444.6 670.0,443.8 C673.3,442.9 676.2,442.5 680.0,442.5 C683.8,442.5 689.2,443.1 692.5,443.8 C695.8,444.4 696.7,445.7 700.0,446.2 C703.3,446.8 708.3,446.9 712.5,447.0 C716.7,447.1 720.8,446.9 725.0,446.8 C729.2,446.6 733.3,446.8 737.5,446.2 C741.7,445.8 745.8,444.6 750.0,443.8 C754.2,442.9 758.3,442.1 762.5,441.2 C766.7,440.4 770.8,439.6 775.0,438.8 C779.2,437.9 783.3,437.2 787.5,436.2 C791.7,435.3 796.7,434.0 800.0,433.2 C803.3,432.5 806.2,432.0 807.5,431.8" fill="none" stroke="#dd7330" stroke-width="1.1" stroke-linejoin="round" opacity="0.85"/>
</g>
<rect x="0" y="402.4" width="1000" height="1.6" fill="#37363d"/>
<rect x="0" y="465.2" width="1000" height="1.6" fill="#37363d"/>
<rect x="0" y="494" width="1000" height="1" fill="#2b2a31"/>
<rect x="942.2" y="0" width="1.9" height="495" fill="#38373e"/>
</svg>
<div class="t" style="left:951.50px;top:10.55px;font-size:12.7px;color:#b4b5bc;transform:scaleX(1.0529);">324.00</div>
<div class="t" style="left:951.50px;top:43.89px;font-size:12.7px;color:#b4b5bc;transform:scaleX(1.0529);">320.00</div>
<div class="t" style="left:951.50px;top:77.24px;font-size:12.7px;color:#b4b5bc;transform:scaleX(1.0529);">316.00</div>
<div class="t" style="left:951.50px;top:110.58px;font-size:12.7px;color:#b4b5bc;transform:scaleX(1.0529);">312.00</div>
<div class="t" style="left:951.50px;top:143.93px;font-size:12.7px;color:#b4b5bc;transform:scaleX(1.0529);">308.00</div>
<div class="t" style="left:951.50px;top:177.27px;font-size:12.7px;color:#b4b5bc;transform:scaleX(1.0529);">304.00</div>
<div class="t" style="left:951.50px;top:210.61px;font-size:12.7px;color:#b4b5bc;transform:scaleX(1.0529);">300.00</div>
<div class="t" style="left:951.50px;top:243.96px;font-size:12.7px;color:#b4b5bc;transform:scaleX(1.0529);">296.00</div>
<div class="t" style="left:951.50px;top:277.30px;font-size:12.7px;color:#b4b5bc;transform:scaleX(1.0529);">292.00</div>
<div class="t" style="left:951.50px;top:310.65px;font-size:12.7px;color:#b4b5bc;transform:scaleX(1.0529);">288.00</div>
<div class="t" style="left:951.50px;top:343.99px;font-size:12.7px;color:#b4b5bc;transform:scaleX(1.0529);">284.00</div>
<div class="t" style="left:951.50px;top:377.33px;font-size:12.7px;color:#b4b5bc;transform:scaleX(1.0529);">280.00</div>
<div class="t" style="left:951.20px;top:436.35px;font-size:12.7px;color:#b4b5bc;transform:scaleX(1.0559);">0.00</div>
<div class="tag" style="top:260.5px"></div>
<div class="tag" style="top:242.8px"></div>
<div class="tag" style="top:225.1px"></div>
<div class="tag" style="top:206.9px;height:18.2px;background:#fff;border-radius:2px"></div>
<div class="t" style="left:951.50px;top:264.35px;font-size:12.7px;color:#ffffff;transform:scaleX(1.0529);">296.00</div>
<div class="t" style="left:951.50px;top:246.15px;font-size:12.7px;color:#ffffff;transform:scaleX(1.0529);">297.04</div>
<div class="t" style="left:951.50px;top:227.95px;font-size:12.7px;color:#ffffff;transform:scaleX(1.0529);">299.04</div>
<div class="t" style="left:951.50px;top:210.05px;font-size:12.7px;color:#17161c;transform:scaleX(1.0529);">299.99</div>
<div class="t" style="left:1.80px;top:3.13px;font-size:9.3px;color:#c3c4cb;transform:scaleX(1.0549);">Sberbank</div>
<div class="t" style="left:47.20px;top:3.13px;font-size:9.3px;color:#c3c4cb;transform:scaleX(0.7103);">·</div>
<div class="t" style="left:53.00px;top:3.13px;font-size:9.3px;color:#c3c4cb;transform:scaleX(0.8580);">1D</div>
<div class="t" style="left:66.40px;top:3.13px;font-size:9.3px;color:#c3c4cb;transform:scaleX(0.7103);">·</div>
<div class="t" style="left:71.80px;top:3.13px;font-size:9.3px;color:#c3c4cb;transform:scaleX(0.9523);">RUS</div>
<div class="t" style="left:96.50px;top:3.13px;font-size:9.3px;color:#c3c4cb;transform:scaleX(0.8986);">O</div>
<div class="t" style="left:104.00px;top:3.13px;font-size:9.3px;color:#d53a4d;transform:scaleX(1.1003);">300.86</div>
<div class="t" style="left:142.00px;top:3.13px;font-size:9.3px;color:#c3c4cb;transform:scaleX(0.8933);">H</div>
<div class="t" style="left:149.00px;top:3.13px;font-size:9.3px;color:#d53a4d;transform:scaleX(1.0406);">301.63</div>
<div class="t" style="left:184.40px;top:3.13px;font-size:9.3px;color:#c3c4cb;transform:scaleX(0.8507);">L</div>
<div class="t" style="left:189.40px;top:3.13px;font-size:9.3px;color:#d53a4d;transform:scaleX(1.0898);">298.75</div>
<div class="t" style="left:226.30px;top:3.13px;font-size:9.3px;color:#c3c4cb;transform:scaleX(0.9231);">C</div>
<div class="t" style="left:233.00px;top:3.13px;font-size:9.3px;color:#d53a4d;transform:scaleX(1.0898);">299.00</div>
<div class="t" style="left:270.40px;top:3.13px;font-size:9.3px;color:#d53a4d;transform:scaleX(1.0856);">−1.46 (−0.49%)</div>
<div class="t" style="left:1.80px;top:16.63px;font-size:9.3px;color:#c3c4cb;transform:scaleX(1.0718);">EMA (200, close)</div>
<div class="t" style="left:83.60px;top:16.63px;font-size:9.3px;color:#f0a032;transform:scaleX(1.1074);">299.85</div>
<div class="t" style="left:1.80px;top:30.03px;font-size:9.3px;color:#c3c4cb;transform:scaleX(1.0534);">EMA (100, close)</div>
<div class="t" style="left:82.40px;top:30.03px;font-size:9.3px;color:#f0a032;transform:scaleX(1.1179);">298.98</div>
<div class="t" style="left:1.80px;top:43.43px;font-size:9.3px;color:#c3c4cb;transform:scaleX(1.0359);">EMA (13, close)</div>
<div class="t" style="left:76.40px;top:43.43px;font-size:9.3px;color:#f0a032;transform:scaleX(1.1074);">296.29</div>
<div class="t" style="left:1.80px;top:56.83px;font-size:9.3px;color:#c3c4cb;transform:scaleX(1.0359);">EMA (21, close)</div>
<div class="t" style="left:76.40px;top:56.83px;font-size:9.3px;color:#f0a032;transform:scaleX(1.1074);">295.20</div>
<div class="t" style="left:1.80px;top:411.83px;font-size:9.3px;color:#c3c4cb;transform:scaleX(1.0417);">MACD (12, 26, close)</div>
<div class="t" style="left:100.70px;top:411.83px;font-size:9.3px;color:#c5dedb;transform:scaleX(1.0441);">0.74</div>
<div class="t" style="left:125.40px;top:411.83px;font-size:9.3px;color:#3f68d8;transform:scaleX(1.0221);">1.60</div>
<div class="t" style="left:149.80px;top:411.83px;font-size:9.3px;color:#d9772f;transform:scaleX(1.0441);">0.87</div>
<div class="t" style="left:-7.14px;top:473.65px;font-size:12.7px;color:#c4c5cc;transform:scaleX(1.0000);font-weight:bold;">Aug</div>
<div class="t" style="left:228.99px;top:473.65px;font-size:12.7px;color:#c4c5cc;transform:scaleX(1.0000);font-weight:bold;">Sep</div>
<div class="t" style="left:474.21px;top:473.65px;font-size:12.7px;color:#c4c5cc;transform:scaleX(1.0000);font-weight:bold;">Oct</div>
<div class="t" style="left:725.68px;top:473.65px;font-size:12.7px;color:#c4c5cc;transform:scaleX(1.0000);font-weight:bold;">Nov</div>
</body></html>
